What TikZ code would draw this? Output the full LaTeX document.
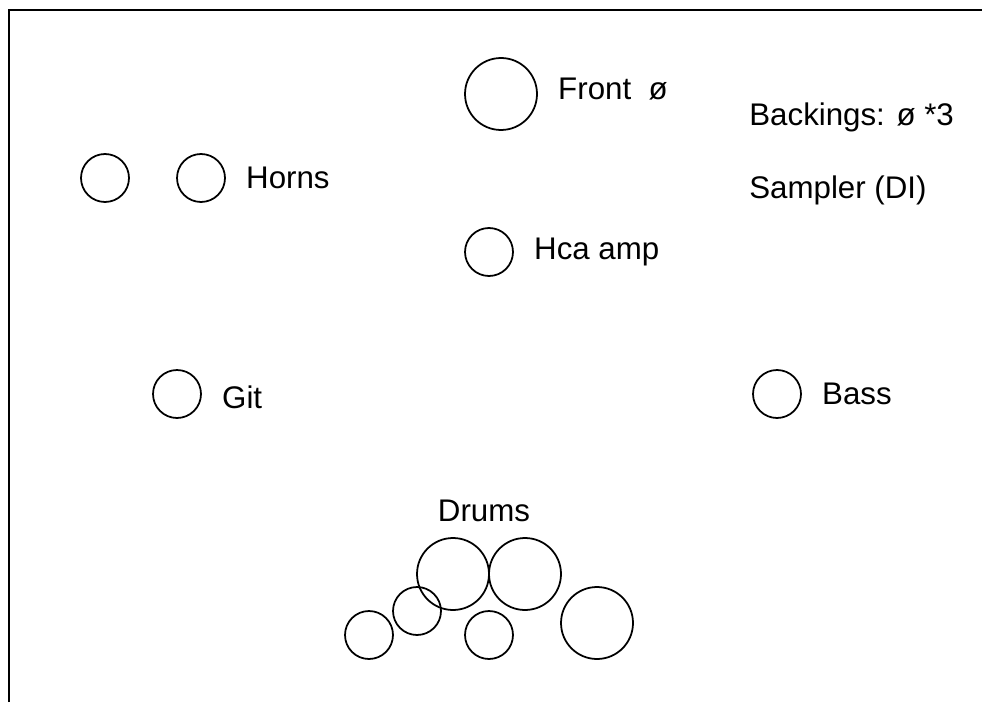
\documentclass[tikz,border=0pt]{standalone}
\usepackage{fontspec}
\setmainfont{Liberation Sans}
\usetikzlibrary{positioning}
\tikzset {
  stage node/.style = {
    draw = black,
    circle,
    line width = 1pt,
    inner sep = 0
  },
  % small circle on the stage
  spot/.style = {
    stage node,
    minimum size = 0.96cm
  },
  % large circle on the stage
  big spot/.style = {
    stage node,
    minimum size = 1.44cm
  },
  % text next to a circle
  tag/.style = {
    font = \fontsize{17.8}{21}\selectfont,
    inner sep = 0
  },
  node distance = 0.4cm
}
\begin{document}
\begin{tikzpicture}[x=0.02cm, y=-0.02cm]
    \useasboundingbox (0,0) rectangle (982,702);
    \draw[line width=1.4pt] (9,702) -- (9,10) -- (982,10);

    \node[big spot] (front) at (501,94) {};
    \node[tag] (front-label) [right=of front, yshift=3pt] {Front\ \ ø};
    \node[tag, anchor=west] (backings) at (749,117) {Backings: ø *3};
    \node[tag, anchor=west] (sampler) at (749,190) {Sampler (DI)};

    \node[spot] (horn-a) at (105,178) {};
    \node[spot] (horn-b) at (201,178) {};
    \node[tag] (horns) [right=of horn-b] {Horns};

    \node[spot] (hca) at (489,252) {};
    \node[tag] (hca-label) [right=of hca] {Hca amp};

    \node[spot] (git) at (177,394) {};
    \node[tag] (git-label) [right=of git, yshift=-2pt] {Git};
    \node[spot] (bass) at (777,394) {};
    \node[tag] (bass-label) [right=of bass] {Bass};

    \node[tag] (drums) at (484,511) {Drums};
    \node[big spot] (tom-a) at (453,574) {};
    \node[big spot] (tom-b) at (525,574) {};
    \node[spot] (snare) at (417,611) {};
    \node[spot] (hat) at (369,635) {};
    \node[spot] (kick) at (489,635) {};
    \node[big spot] (floor) at (597,623) {};
  \end{tikzpicture}
\end{document}
